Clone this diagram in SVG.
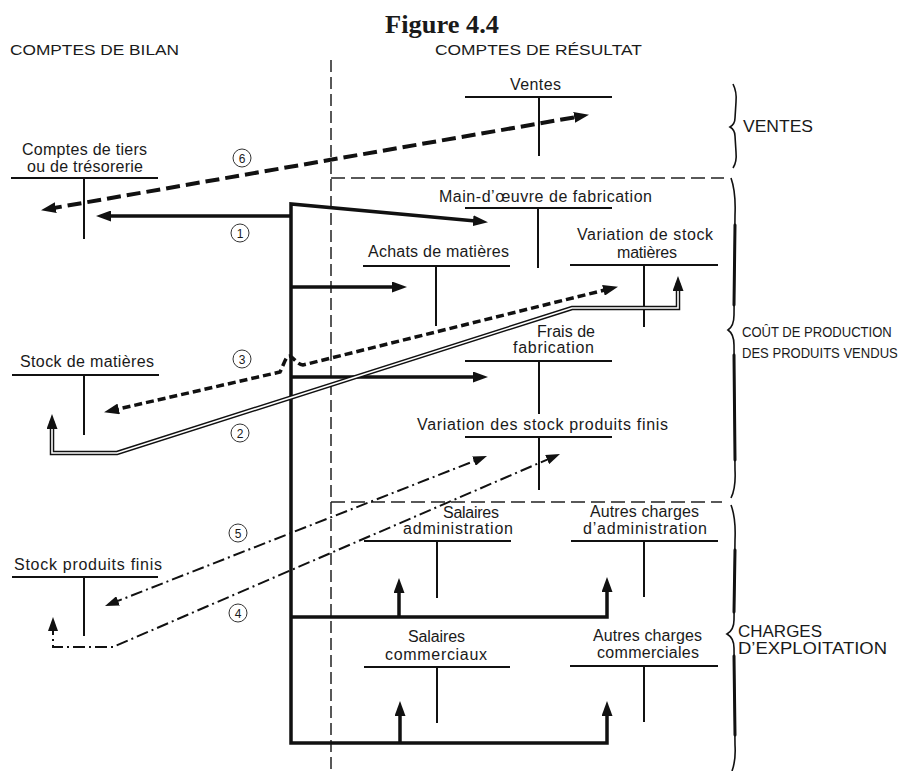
<svg xmlns="http://www.w3.org/2000/svg" width="904" height="771" viewBox="0 0 904 771">
<defs>
<style>
text{font-family:"Liberation Sans",Arial,sans-serif;fill:#1a1a1a}
.lbl{font-size:16px}
.hdr{font-size:15px}
.side{font-size:16px}
.acc{stroke:#111;stroke-width:2;fill:none}
.sep{stroke:#222;stroke-width:1.5;fill:none;stroke-dasharray:12 5}
.thick{stroke:#111;stroke-width:3.5;fill:none;stroke-linejoin:miter}
.d6{stroke:#111;stroke-width:4;fill:none;stroke-dasharray:14 6}
.d3{stroke:#111;stroke-width:3.5;fill:none;stroke-dasharray:8 4}
.dd{stroke:#111;stroke-width:2;fill:none;stroke-dasharray:12 4 2 4}
.pipeo{stroke:#111;stroke-width:4.5;fill:none;stroke-linejoin:miter}
.pipei{stroke:#fff;stroke-width:1.6;fill:none;stroke-linejoin:miter}
.brace{stroke:#111;stroke-width:1.6;fill:none}
.braceb{stroke:#111;stroke-width:3;fill:none;stroke-linecap:round}
.num{stroke:#333;stroke-width:1;fill:none}
.numt{font-size:12px;text-anchor:middle}
</style>
<marker id="ah" markerUnits="userSpaceOnUse" markerWidth="15" markerHeight="11" refX="8" refY="5.5" orient="auto-start-reverse">
<path d="M0,0 L15,5.5 L0,11 z" fill="#111"/>
</marker>
<marker id="ahs" markerUnits="userSpaceOnUse" markerWidth="14" markerHeight="10" refX="8" refY="5" orient="auto-start-reverse">
<path d="M0,0 L14,5 L0,10 z" fill="#111"/>
</marker>
</defs>
<rect width="904" height="771" fill="#fff"/>

<text x="385" y="33" style="font-family:'Liberation Serif','Times New Roman',serif;font-weight:bold;font-size:25px" textLength="114" lengthAdjust="spacingAndGlyphs">Figure 4.4</text>
<text class="hdr" x="10" y="55" textLength="169" lengthAdjust="spacingAndGlyphs">COMPTES DE BILAN</text>
<text class="hdr" x="435" y="55" textLength="207" lengthAdjust="spacingAndGlyphs">COMPTES DE RÉSULTAT</text>

<g id="separators">
<line class="sep" x1="331" y1="60" x2="331" y2="771"/>
<line class="sep" x1="331" y1="178" x2="724" y2="178" style="stroke-dasharray:14 6"/>
<line class="sep" x1="331" y1="502" x2="722" y2="502" style="stroke-dasharray:14 6"/>
</g>

<g id="braces">
<path class="brace" d="M733,84 Q737,92 736,102 L735,118 Q735,124 730,127 Q735,130 735,136 L736,152 Q737,162 733,168"/>
<path class="brace" d="M731,178 Q736,192 735,215 L734,315 Q734,326 728,330 Q734,334 734,345 L735,470 Q736,488 731,498"/>
<path class="braceb" d="M735,225 L734,305 M734,355 L735,460"/>
<path class="brace" d="M731,505 Q736,518 735,540 L734,620 Q734,630 727,634 Q734,638 734,648 L735,745 Q736,760 732,771"/>
<path class="braceb" d="M735,550 L734,612 M734,656 L735,735"/>
<text class="side" x="743" y="132" textLength="70" lengthAdjust="spacingAndGlyphs">VENTES</text>
<text transform="translate(742,337) scale(0.87,1)" style="font-size:15px">COÛT DE PRODUCTION</text>
<text transform="translate(742,358) scale(0.87,1)" style="font-size:15px">DES PRODUITS VENDUS</text>
<text class="side" x="738" y="637" textLength="84" lengthAdjust="spacingAndGlyphs">CHARGES</text>
<text class="side" x="738" y="654" textLength="149" lengthAdjust="spacingAndGlyphs">D’EXPLOITATION</text>
</g>

<g id="node-ventes">
<text class="lbl" x="510" y="90" textLength="51" lengthAdjust="spacing">Ventes</text>
<path class="acc" d="M465,97 H612 M539,97 V156"/>
</g>
<g id="node-tiers">
<text class="lbl" x="22" y="155" textLength="125" lengthAdjust="spacing">Comptes de tiers</text>
<text class="lbl" x="27" y="172" textLength="116" lengthAdjust="spacing">ou de trésorerie</text>
<path class="acc" d="M11,178 H158 M84,178 V239"/>
</g>
<g id="node-main-oeuvre">
<text class="lbl" x="439" y="202" textLength="213" lengthAdjust="spacing">Main-d’œuvre de fabrication</text>
<path class="acc" d="M465,208 H612 M538,208 V268"/>
</g>
<g id="node-achats">
<text class="lbl" x="368" y="257" textLength="141" lengthAdjust="spacing">Achats de matières</text>
<path class="acc" d="M363,266 H510 M436,266 V326"/>
</g>
<g id="node-var-matieres">
<text class="lbl" x="577" y="240" textLength="136" lengthAdjust="spacing">Variation de stock</text>
<text class="lbl" x="617" y="258" textLength="60" lengthAdjust="spacing">matières</text>
<path class="acc" d="M570,265 H718 M644,265 V327"/>
</g>
<g id="node-stock-matieres">
<text class="lbl" x="20" y="367" textLength="134" lengthAdjust="spacing">Stock de matières</text>
<path class="acc" d="M12,375 H159 M84,375 V435"/>
</g>
<g id="node-frais">
<text class="lbl" x="537" y="337" textLength="58" lengthAdjust="spacing">Frais de</text>
<text class="lbl" x="513" y="353" textLength="81" lengthAdjust="spacing">fabrication</text>
<path class="acc" d="M465,361 H612 M539,361 V414"/>
</g>
<g id="node-var-produits">
<text class="lbl" x="417" y="430" textLength="251" lengthAdjust="spacing">Variation des stock produits finis</text>
<path class="acc" d="M465,437 H612 M539,437 V490"/>
</g>
<g id="node-stock-produits">
<text class="lbl" x="14" y="570" textLength="148" lengthAdjust="spacing">Stock produits finis</text>
<path class="acc" d="M12,577 H158 M84,577 V636"/>
</g>
<g id="node-sal-admin">
<text class="lbl" x="443" y="518" textLength="56" lengthAdjust="spacing">Salaires</text>
<text class="lbl" x="403" y="534" textLength="110" lengthAdjust="spacing">administration</text>
<path class="acc" d="M364,541 H511 M437,541 V598"/>
</g>
<g id="node-autres-admin">
<text class="lbl" x="590" y="517" textLength="109" lengthAdjust="spacing">Autres charges</text>
<text class="lbl" x="583" y="534" textLength="124" lengthAdjust="spacing">d’administration</text>
<path class="acc" d="M571,541 H718 M644,541 V597"/>
</g>
<g id="node-sal-comm">
<text class="lbl" x="408" y="642" textLength="57" lengthAdjust="spacing">Salaires</text>
<text class="lbl" x="385" y="660" textLength="102" lengthAdjust="spacing">commerciaux</text>
<path class="acc" d="M364,667 H510 M437,667 V723"/>
</g>
<g id="node-autres-comm">
<text class="lbl" x="593" y="641" textLength="109" lengthAdjust="spacing">Autres charges</text>
<text class="lbl" x="597" y="658" textLength="102" lengthAdjust="spacing">commerciales</text>
<path class="acc" d="M570,666 H718 M644,666 V722"/>
</g>

<g id="connectors">
<path class="thick" d="M291,216 H103" marker-end="url(#ah)"/>
<path class="thick" d="M607,708 V743 H291 V204 L481,221.5" marker-start="url(#ah)" marker-end="url(#ah)"/>
<path class="thick" d="M291,287 H400" marker-end="url(#ah)"/>
<path class="thick" d="M291,377 H481" marker-end="url(#ah)"/>
<path class="thick" d="M291,617 H607 V584" marker-end="url(#ah)"/>
<path class="thick" d="M399,617 V585" marker-end="url(#ah)"/>
<path class="thick" d="M400,743 V708" marker-end="url(#ah)"/>
<path class="d6" d="M47.9,209 L582.1,116" marker-start="url(#ah)" marker-end="url(#ah)"/>
<path class="d3" d="M110.9,410.7 L280,372 C284,364 286,356 289,356 C293,356 296,364 303,365 L611.2,288.4" marker-start="url(#ah)" marker-end="url(#ah)"/>
<path class="pipeo" d="M52,421 V453 H117 L572,308 H678 V283" marker-start="url(#ah)" marker-end="url(#ah)"/>
<path class="pipei" d="M52,429 V453 H117 L572,308 H678 V291"/>
<path class="dd" d="M110.6,603.8 L481.4,458.2" marker-start="url(#ahs)" marker-end="url(#ahs)"/>
<path class="dd" d="M53,623 V647 H113 L554.5,456.4" marker-start="url(#ahs)" marker-end="url(#ahs)"/>
</g>

<g id="numbers">
<circle class="num" cx="242" cy="158" r="9"/><text class="numt" x="242" y="162.5">6</text>
<circle class="num" cx="240" cy="233" r="9"/><text class="numt" x="240" y="237.5">1</text>
<circle class="num" cx="242" cy="359" r="9"/><text class="numt" x="242" y="363.5">3</text>
<circle class="num" cx="240" cy="433" r="9"/><text class="numt" x="240" y="437.5">2</text>
<circle class="num" cx="238" cy="533" r="9"/><text class="numt" x="238" y="537.5">5</text>
<circle class="num" cx="238" cy="613" r="9"/><text class="numt" x="238" y="617.5">4</text>
</g>
</svg>
